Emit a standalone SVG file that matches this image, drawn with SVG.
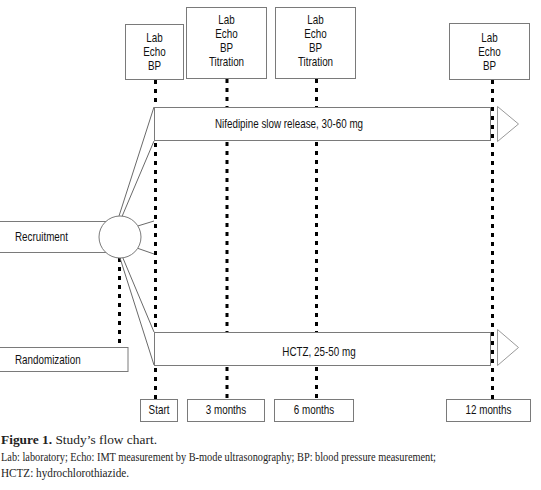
<svg xmlns="http://www.w3.org/2000/svg" width="541" height="490" viewBox="0 0 541 490">
<style>
.box{fill:#fff;stroke:#7a7a7a;stroke-width:1}
.dot{stroke:#000;stroke-width:3;stroke-dasharray:4 5;fill:none}
.ln{stroke:#6a6a6a;stroke-width:1;fill:none}
.tri{fill:#fff;stroke:#9a9a9a;stroke-width:1}
.t{font-family:"Liberation Sans",Arial,sans-serif;font-size:12px;fill:#111}
.c{text-anchor:middle}
.cap{font-family:"Liberation Serif","Times New Roman",serif;fill:#222}
</style>
<rect width="541" height="490" fill="#fff"/>
<g id="connectors">
<line class="dot" x1="155.5" y1="80" x2="155.5" y2="400"/>
<line class="dot" x1="227" y1="79" x2="227" y2="400"/>
<line class="dot" x1="316.5" y1="79" x2="316.5" y2="400"/>
<line class="dot" x1="492.5" y1="80" x2="492.5" y2="400"/>
<line class="dot" x1="119.5" y1="258" x2="119.5" y2="347"/>
<line class="ln" x1="119" y1="216" x2="154" y2="107"/>
<line class="ln" x1="122" y1="216.5" x2="154" y2="141"/>
<line class="ln" x1="137.7" y1="226" x2="154" y2="221"/>
<line class="ln" x1="137.7" y1="248.3" x2="154" y2="254"/>
<line class="ln" x1="120" y1="258" x2="154" y2="365"/>
<line class="ln" x1="122.5" y1="257" x2="154" y2="332"/>
</g>
<g id="visit-start"><rect class="box" x="125.5" y="24.5" width="58" height="55"/>
<text class="t c" transform="translate(154.5,41.5) scale(0.82,1)">Lab</text>
<text class="t c" transform="translate(154.5,55.5) scale(0.82,1)">Echo</text>
<text class="t c" transform="translate(154.5,69.5) scale(0.82,1)">BP</text></g>
<g id="visit-3m"><rect class="box" x="186.5" y="7.5" width="80" height="71"/>
<text class="t c" transform="translate(226.5,24) scale(0.82,1)">Lab</text>
<text class="t c" transform="translate(226.5,38) scale(0.82,1)">Echo</text>
<text class="t c" transform="translate(226.5,52) scale(0.82,1)">BP</text>
<text class="t c" transform="translate(226.5,66) scale(0.82,1)">Titration</text></g>
<g id="visit-6m"><rect class="box" x="275.5" y="7.5" width="80" height="71"/>
<text class="t c" transform="translate(315.5,24) scale(0.82,1)">Lab</text>
<text class="t c" transform="translate(315.5,38) scale(0.82,1)">Echo</text>
<text class="t c" transform="translate(315.5,52) scale(0.82,1)">BP</text>
<text class="t c" transform="translate(315.5,66) scale(0.82,1)">Titration</text></g>
<g id="visit-12m"><rect class="box" x="449.5" y="23.5" width="80" height="56"/>
<text class="t c" transform="translate(489.5,41.5) scale(0.82,1)">Lab</text>
<text class="t c" transform="translate(489.5,55.5) scale(0.82,1)">Echo</text>
<text class="t c" transform="translate(489.5,69.5) scale(0.82,1)">BP</text></g>
<g id="nifedipine"><rect class="box" x="154.5" y="107.5" width="336" height="33"/>
<polygon class="tri" points="497.5,106.5 497.5,141.5 518.5,124"/>
<text class="t c" transform="translate(289,128) scale(0.82,1)">Nifedipine slow release, 30-60 mg</text></g>
<g id="hctz"><rect class="box" x="154.5" y="332.5" width="336" height="33"/>
<polygon class="tri" points="497.5,329.5 497.5,365.5 518.5,347.5"/>
<text class="t c" transform="translate(319,356) scale(0.82,1)">HCTZ, 25-50 mg</text></g>
<g id="recruitment"><rect class="box" x="-1" y="221.5" width="112" height="31"/>
<text class="t" transform="translate(15,240.5) scale(0.82,1)">Recruitment</text></g>
<g id="randomization-node"><circle class="box" cx="120" cy="237" r="21"/></g>
<g id="randomization"><rect class="box" x="-1" y="347.5" width="129" height="24"/>
<text class="t" transform="translate(15,364) scale(0.82,1)">Randomization</text></g>
<g id="t-start"><rect class="box" x="140.5" y="399.5" width="37" height="22"/>
<text class="t c" transform="translate(159,414) scale(0.82,1)">Start</text></g>
<g id="t-3m"><rect class="box" x="187.5" y="399.5" width="77" height="22"/>
<text class="t c" transform="translate(226,414) scale(0.82,1)">3 months</text></g>
<g id="t-6m"><rect class="box" x="274.5" y="399.5" width="79" height="22"/>
<text class="t c" transform="translate(314,414) scale(0.82,1)">6 months</text></g>
<g id="t-12m"><rect class="box" x="446.5" y="399.5" width="84" height="22"/>
<text class="t c" transform="translate(488.5,414) scale(0.82,1)">12 months</text></g>
<g id="caption">
<text class="cap" x="1" y="444" style="font-size:13px" textLength="156" lengthAdjust="spacingAndGlyphs"><tspan font-weight="bold">Figure 1.</tspan> Study’s flow chart.</text>
<text class="cap" x="1" y="461" style="font-size:11.5px" textLength="435" lengthAdjust="spacingAndGlyphs">Lab: laboratory; Echo: IMT measurement by B-mode ultrasonography; BP: blood pressure measurement;</text>
<text class="cap" x="1" y="477" style="font-size:11.5px" textLength="128" lengthAdjust="spacingAndGlyphs">HCTZ: hydrochlorothiazide.</text>
</g>
</svg>
